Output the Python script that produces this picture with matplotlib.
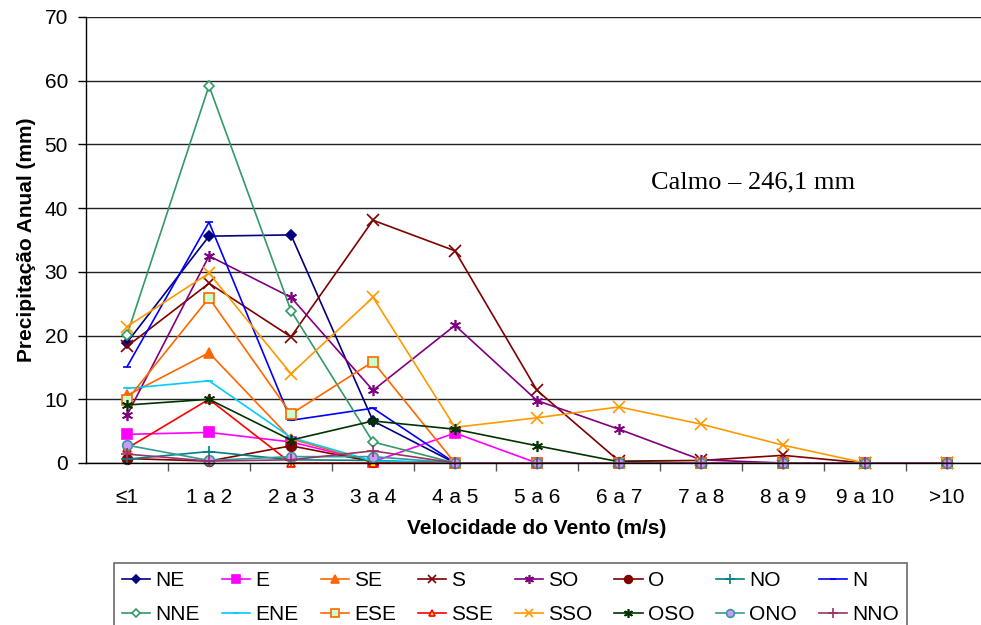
import matplotlib.pyplot as plt
from matplotlib.ticker import MultipleLocator

# wind speed classes (m/s)
categories = ['≤1', '1 a 2', '2 a 3', '3 a 4', '4 a 5', '5 a 6', '6 a 7', '7 a 8', '8 a 9', '9 a 10', '>10']

# annual precipitation (mm) per wind direction
NE = [18.9, 35.6, 35.8, 6.6, 0, 0, 0, 0, 0, 0, 0]
E = [4.5, 4.8, 3.3, 0.2, 4.7, 0, 0, 0, 0, 0, 0]
SE = [10.6, 17.3, 3.8, 0.1, 0, 0, 0, 0, 0, 0, 0]
S = [18.3, 28.2, 19.8, 38.1, 33.3, 11.4, 0.3, 0.4, 1.2, 0, 0]
SO = [7.5, 32.5, 26.0, 11.4, 21.6, 9.8, 5.3, 0.5, 0, 0, 0]
O = [0.7, 0.3, 2.7, 0.2, 0, 0, 0, 0, 0, 0, 0]
NO = [0.6, 1.8, 0.5, 0.4, 0, 0, 0, 0, 0, 0, 0]
N = [15.1, 37.8, 6.7, 8.6, 0, 0, 0, 0, 0, 0, 0]
NNE = [20.1, 59.2, 23.9, 3.3, 0, 0, 0, 0, 0, 0, 0]
ENE = [11.7, 12.9, 4.0, 0.3, 0, 0, 0, 0, 0, 0, 0]
ESE = [9.9, 25.9, 7.7, 15.9, 0, 0, 0, 0, 0, 0, 0]
SSE = [2.3, 10.0, 0, 0, 0, 0, 0, 0, 0, 0, 0]
SSO = [21.4, 29.8, 14.0, 26.0, 5.6, 7.1, 8.8, 6.1, 2.8, 0, 0]
OSO = [9.1, 10.0, 3.6, 6.6, 5.3, 2.7, 0.2, 0, 0, 0, 0]
ONO = [2.8, 0.4, 1.0, 1.0, 0, 0, 0, 0, 0, 0, 0]
NNO = [1.4, 0.3, 0.5, 1.9, 0, 0, 0, 0, 0, 0, 0]

asterisk = (6, 2, 0)

# name, values, color, marker, marker face color, marker size
series = [
    ('NE', NE, '#000080', 'D', '#000080', 5),
    ('E', E, '#FF00FF', 's', '#FF00FF', 7),
    ('SE', SE, '#FF6600', '^', '#FF6600', 7),
    ('S', S, '#800000', 'x', '#800000', 8),
    ('SO', SO, '#800080', asterisk, '#800080', 8),
    ('O', O, '#800000', 'o', '#800000', 7),
    ('NO', NO, '#008080', '+', '#008080', 9),
    ('N', N, '#0000FF', '_', '#0000FF', 6),
    ('NNE', NNE, '#339966', 'D', 'white', 5),
    ('ENE', ENE, '#00CCFF', '_', '#00CCFF', 6),
    ('ESE', ESE, '#FF6600', 's', '#CCFFCC', 7),
    ('SSE', SSE, '#FF0000', '^', '#FFFF00', 6),
    ('SSO', SSO, '#FF9900', 'x', '#FF9900', 8),
    ('OSO', OSO, '#003300', asterisk, '#003300', 8),
    ('ONO', ONO, '#339999', 'o', '#CC99FF', 7),
    ('NNO', NNO, '#993366', '+', '#993366', 9),
]

plt.rcParams['font.family'] = ['Liberation Sans', 'DejaVu Sans']

fig = plt.figure(figsize=(9.81, 6.25), dpi=100)
ax = fig.add_axes([86 / 981, 162 / 625, 902 / 981, 446 / 625])

x = list(range(len(categories)))
handles = {}
for name, vals, color, marker, mfc, ms in series:
    line, = ax.plot(x, vals, color=color, lw=1.2, marker=marker, ms=ms,
                    mfc=mfc, mec=color, mew=1.2, label=name, clip_on=False)
    handles[name] = line

ax.set_xlim(-0.5, 10.5)
ax.set_ylim(0, 70)
ax.yaxis.set_major_locator(MultipleLocator(10))
ax.set_xticks(x)
ax.set_xticklabels(categories)
ax.set_xticks([i + 0.5 for i in range(10)], minor=True)
ax.tick_params(axis='x', which='major', length=0, pad=18, labelsize=15)
ax.tick_params(axis='x', which='minor', length=6, width=1, color='#555555')
ax.tick_params(axis='y', length=6, width=1, pad=7, labelsize=15)

ax.grid(axis='y', color='#222222', lw=1)
ax.set_axisbelow(True)
for side in ['top', 'right']:
    ax.spines[side].set_visible(False)
ax.spines['left'].set_linewidth(1)
ax.spines['bottom'].set_linewidth(1)

ax.set_ylabel('Precipitação Anual (mm)', fontsize=15, fontweight='bold', labelpad=6)
ax.set_xlabel('Velocidade do Vento (m/s)', fontsize=15, fontweight='bold', labelpad=9)

ax.text(7.63, 44, 'Calmo – 246,1 mm', fontsize=19, family='Liberation Serif',
        ha='center', va='center')

# legend fills column-wise, so pair the two rows
row1 = ['NE', 'E', 'SE', 'S', 'SO', 'O', 'NO', 'N']
row2 = ['NNE', 'ENE', 'ESE', 'SSE', 'SSO', 'OSO', 'ONO', 'NNO']
order = []
for a, b in zip(row1, row2):
    order += [a, b]
leg = fig.legend([handles[n] for n in order], order, ncol=8,
                 loc='upper left', bbox_to_anchor=(114 / 981, 1 - 563 / 625),
                 fontsize=15, frameon=True, fancybox=False, borderpad=0.4,
                 handlelength=1.35, handletextpad=0.25, columnspacing=1.05,
                 labelspacing=0.7, borderaxespad=0, markerscale=0.8)
leg.get_frame().set_edgecolor('#444444')
leg.get_frame().set_linewidth(1.2)

fig.savefig('out.png', dpi=100)
